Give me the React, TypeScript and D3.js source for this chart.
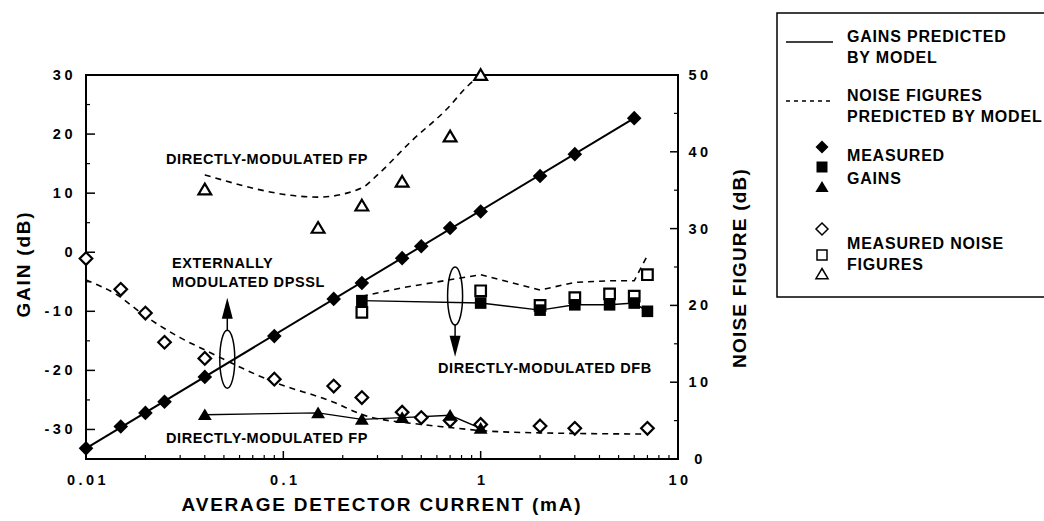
import * as d3 from 'd3'

// DPSSL (externally modulated) - measured gain, filled diamonds
const dpsslGainCurrent = [0.01, 0.015, 0.02, 0.025, 0.04, 0.09, 0.18, 0.25, 0.4, 0.5, 0.7, 1, 2, 3, 6]
const dpsslGain = [-33.2, -29.5, -27.2, -25.3, -21.1, -14.2, -7.9, -5.2, -1.0, 1.0, 4.1, 6.9, 12.9, 16.6, 22.7]
// model gain line end points
const dpsslModelCurrent = [0.01, 6]
const dpsslModelGain = [-33.2, 22.7]
// measured noise figure, open diamonds
const dpsslNfCurrent = [0.01, 0.015, 0.02, 0.025, 0.04, 0.09, 0.18, 0.25, 0.4, 0.5, 0.7, 1, 2, 3, 7]
const dpsslNf = [26.1, 22.1, 19.0, 15.2, 13.1, 10.4, 9.5, 8.0, 6.1, 5.4, 5.0, 4.5, 4.3, 4.0, 4.0]
// model noise figure, dashed
const dpsslNfModelCurrent = [0.01, 0.0143, 0.02, 0.03, 0.04, 0.09, 0.18, 0.25, 0.5, 0.7, 1, 2, 7]
const dpsslNfModel = [23.3, 21.4, 18.6, 15.8, 14.2, 10.0, 7.4, 5.8, 4.5, 4.1, 3.7, 3.4, 3.25]

// DFB (directly modulated)
const dfbCurrent = [0.25, 1, 2, 3, 4.5, 6, 7]
const dfbGain = [-8.2, -8.6, -9.8, -8.9, -8.9, -8.6, -10.0]
const dfbNf = [19.1, 21.9, 20.0, 21.0, 21.5, 21.2, 24.0]
const dfbNfModelCurrent = [0.25, 0.4, 1, 2, 3, 4.5, 6, 7]
const dfbNfModel = [21.2, 22.3, 24.0, 22.0, 23.0, 23.2, 23.2, 26.5]

// FP (directly modulated)
const fpCurrent = [0.04, 0.15, 0.25, 0.4, 0.7, 1]
const fpGain = [-27.5, -27.2, -28.3, -28.0, -27.6, -29.8]
const fpNf = [35.1, 30.1, 33.0, 36.1, 42.0, 50.0]
const fpNfModelCurrent = [0.04, 0.15, 0.25, 0.3, 0.45, 0.67, 0.87, 1]
const fpNfModel = [37.0, 34.1, 35.3, 37.0, 41.5, 45.5, 48.7, 50.0]

const gainTicks = [-30, -20, -10, 0, 10, 20, 30]
const nfTicks = [0, 10, 20, 30, 40, 50]
const currentTicks = [0.01, 0.1, 1, 10]
const currentTickLabels = ['0.01', '0.1', '1', '10']

const FONT = '"Liberation Sans", Arial, Helvetica, sans-serif'

const diamond = (r: number) => `M0,${-r}L${r},0L0,${r}L${-r},0Z`
const square = (s: number) => `M${-s},${-s}H${s}V${s}H${-s}Z`
const triangle = (r: number) => `M0,${-r}L${r * 1.1},${r * 0.85}L${-r * 1.1},${r * 0.85}Z`

const zip = (xs: number[], ys: number[]) => xs.map((v, i) => [v, ys[i]] as [number, number])

export default function App() {
    const W = 1044
    const H = 521
    const left = 86, right = 678, top = 75, bottom = 459

    const x = d3.scaleLog().domain([0.01, 10]).range([left, right])
    const yG = d3.scaleLinear().domain([-35, 30]).range([bottom, top])
    const yN = d3.scaleLinear().domain([0, 50]).range([bottom, top])

    const lineG = d3.line<[number, number]>().x(d => x(d[0])).y(d => yG(d[1]))
    const lineN = d3.line<[number, number]>().x(d => x(d[0])).y(d => yN(d[1]))
    const curveN = d3.line<[number, number]>().x(d => x(d[0])).y(d => yN(d[1])).curve(d3.curveMonotoneX)

    const minorX = x.ticks().filter(t => Math.abs(Math.log10(t) - Math.round(Math.log10(t))) > 1e-6)
    const minorG = [-25, -15, -5, 5, 15, 25]
    const minorN = [5, 15, 25, 35, 45]

    const dash = '6,5'

    // annotation ellipses (positioned in data units)
    const e1 = { cx: x(0.052), cy: yG(-18.1), tip: yG(-7.7) }
    const e2 = { cx: x(0.742), cy: yG(-7.4), tip: yG(-17.7) }
    const ry = 29, rx = 7.5

    const txt = { fontFamily: FONT, fontWeight: 700 as const }

    return (
        <svg width={W} height={H} style={{ position: 'absolute', left: 0, top: 0, background: '#fff' }}>
            <rect width={W} height={H} fill="#fff" />

            {/* frame */}
            <rect x={left} y={top} width={right - left} height={bottom - top} fill="none" stroke="#000" strokeWidth={2} />

            {/* left ticks */}
            {gainTicks.map(t => (
                <g key={'g' + t}>
                    <line x1={left} x2={left + 9} y1={yG(t)} y2={yG(t)} stroke="#000" strokeWidth={1.5} />
                    <text x={76} y={yG(t) + 5} textAnchor="end" fontSize={14.5} letterSpacing={3.5} {...txt}>{t}</text>
                </g>
            ))}
            {minorG.map(t => (
                <line key={'mg' + t} x1={left} x2={left + 4} y1={yG(t)} y2={yG(t)} stroke="#000" strokeWidth={1.2} />
            ))}

            {/* right ticks */}
            {nfTicks.map(t => (
                <g key={'n' + t}>
                    <line x1={right} x2={right - 8} y1={yN(t)} y2={yN(t)} stroke="#000" strokeWidth={1.5} />
                    <text x={700} y={yN(t) + 5} textAnchor="middle" fontSize={14.5} letterSpacing={3.5} {...txt}>{t}</text>
                </g>
            ))}
            {minorN.map(t => (
                <line key={'mn' + t} x1={right} x2={right - 4} y1={yN(t)} y2={yN(t)} stroke="#000" strokeWidth={1.2} />
            ))}

            {/* bottom ticks */}
            {currentTicks.map((t, i) => (
                <g key={'c' + t}>
                    <line x1={x(t)} x2={x(t)} y1={bottom} y2={bottom - 8} stroke="#000" strokeWidth={1.5} />
                    <text x={x(t) + 2} y={485} textAnchor="middle" fontSize={14.5} letterSpacing={3.5} {...txt}>{currentTickLabels[i]}</text>
                </g>
            ))}
            {minorX.map(t => (
                <line key={'mc' + t} x1={x(t)} x2={x(t)} y1={bottom} y2={bottom - 4} stroke="#000" strokeWidth={1.2} />
            ))}

            {/* axis titles */}
            <text x={(left + right) / 2} y={511} textAnchor="middle" fontSize={19} letterSpacing={1.8} {...txt}>AVERAGE DETECTOR CURRENT (mA)</text>
            <text transform={`translate(30,264) rotate(-90)`} textAnchor="middle" fontSize={19} letterSpacing={1.8} {...txt}>GAIN (dB)</text>
            <text transform={`translate(746,268) rotate(-90)`} textAnchor="middle" fontSize={19} letterSpacing={1.2} {...txt}>NOISE FIGURE (dB)</text>

            {/* model lines */}
            <path d={lineG(zip(dpsslModelCurrent, dpsslModelGain)) ?? ''} fill="none" stroke="#000" strokeWidth={2} />
            <path d={lineG(zip(dfbCurrent, dfbGain)) ?? ''} fill="none" stroke="#000" strokeWidth={1.4} />
            <path d={lineG(zip(fpCurrent, fpGain)) ?? ''} fill="none" stroke="#000" strokeWidth={1.4} />
            <path d={curveN(zip(dpsslNfModelCurrent, dpsslNfModel)) ?? ''} fill="none" stroke="#000" strokeWidth={1.6} strokeDasharray={dash} />
            <path d={lineN(zip(dfbNfModelCurrent, dfbNfModel)) ?? ''} fill="none" stroke="#000" strokeWidth={1.6} strokeDasharray={dash} />
            <path d={curveN(zip(fpNfModelCurrent, fpNfModel)) ?? ''} fill="none" stroke="#000" strokeWidth={1.6} strokeDasharray={dash} />

            {/* open markers: measured noise figures */}
            {zip(dpsslNfCurrent, dpsslNf).map((d, i) => (
                <path key={'od' + i} d={diamond(6.3)} transform={`translate(${x(d[0])},${yN(d[1])})`} fill="#fff" stroke="#000" strokeWidth={2.2} />
            ))}
            {zip(dfbCurrent, dfbNf).map((d, i) => (
                <path key={'os' + i} d={square(5.3)} transform={`translate(${x(d[0])},${yN(d[1])})`} fill="#fff" stroke="#000" strokeWidth={2.2} />
            ))}
            {zip(fpCurrent, fpNf).map((d, i) => (
                <path key={'ot' + i} d={triangle(5.8)} transform={`translate(${x(d[0])},${yN(d[1])})`} fill="#fff" stroke="#000" strokeWidth={2.2} />
            ))}

            {/* filled markers: measured gains */}
            {zip(dpsslGainCurrent, dpsslGain).map((d, i) => (
                <path key={'fd' + i} d={diamond(7.3)} transform={`translate(${x(d[0])},${yG(d[1])})`} fill="#000" />
            ))}
            {zip(dfbCurrent, dfbGain).map((d, i) => (
                <path key={'fs' + i} d={square(5.8)} transform={`translate(${x(d[0])},${yG(d[1])})`} fill="#000" />
            ))}
            {zip(fpCurrent, fpGain).map((d, i) => (
                <path key={'ft' + i} d={triangle(6.3)} transform={`translate(${x(d[0])},${yG(d[1])})`} fill="#000" />
            ))}

            {/* annotations */}
            <g fill="none" stroke="#000" strokeWidth={1.5}>
                <ellipse cx={e1.cx} cy={e1.cy} rx={rx} ry={ry} />
                <line x1={e1.cx} x2={e1.cx} y1={e1.cy - ry} y2={e1.tip + 18} />
                <ellipse cx={e2.cx} cy={e2.cy} rx={rx} ry={ry} />
                <line x1={e2.cx} x2={e2.cx} y1={e2.cy + ry} y2={e2.tip - 18} />
            </g>
            <path d={`M${e1.cx},${e1.tip}L${e1.cx + 5.5},${e1.tip + 21}L${e1.cx - 5.5},${e1.tip + 21}Z`} fill="#000" />
            <path d={`M${e2.cx},${e2.tip}L${e2.cx + 5.5},${e2.tip - 21}L${e2.cx - 5.5},${e2.tip - 21}Z`} fill="#000" />

            <g fontSize={14.5} letterSpacing={0.6} {...txt}>
                <text x={166} y={164}>DIRECTLY-MODULATED FP</text>
                <text x={172} y={268}>EXTERNALLY</text>
                <text x={172} y={287}>MODULATED DPSSL</text>
                <text x={166} y={443}>DIRECTLY-MODULATED FP</text>
                <text x={438} y={373}>DIRECTLY-MODULATED DFB</text>
            </g>

            {/* legend */}
            <rect x={777} y={13} width={300} height={284} fill="none" stroke="#000" strokeWidth={1.5} />
            <line x1={786} x2={833} y1={42} y2={42} stroke="#000" strokeWidth={1.3} />
            <line x1={786} x2={833} y1={101} y2={101} stroke="#000" strokeWidth={1.3} strokeDasharray="4,4" />
            <path d={diamond(6.5)} transform="translate(822,147)" fill="#000" />
            <path d={square(5.5)} transform="translate(822,167)" fill="#000" />
            <path d={triangle(6)} transform="translate(822,187)" fill="#000" />
            <path d={diamond(6)} transform="translate(822,229)" fill="#fff" stroke="#000" strokeWidth={1.5} />
            <path d={square(5)} transform="translate(822,255)" fill="#fff" stroke="#000" strokeWidth={1.5} />
            <path d={triangle(5.5)} transform="translate(822,274)" fill="#fff" stroke="#000" strokeWidth={1.5} />
            <g fontSize={16} letterSpacing={0.8} {...txt}>
                <text x={847} y={42}>GAINS PREDICTED</text>
                <text x={847} y={63}>BY MODEL</text>
                <text x={847} y={101}>NOISE FIGURES</text>
                <text x={847} y={122}>PREDICTED BY MODEL</text>
                <text x={847} y={161}>MEASURED</text>
                <text x={847} y={184}>GAINS</text>
                <text x={847} y={249}>MEASURED NOISE</text>
                <text x={847} y={270}>FIGURES</text>
            </g>
        </svg>
    )
}
